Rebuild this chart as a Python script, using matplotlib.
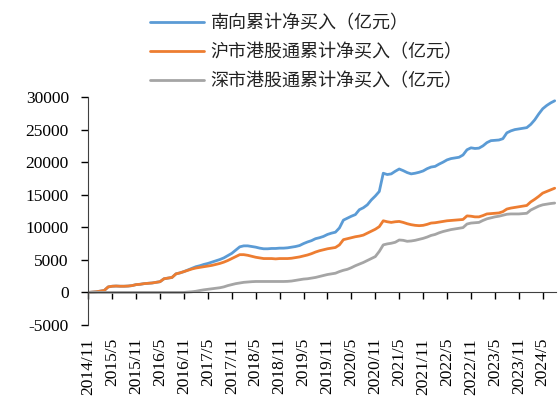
import numpy as np
import matplotlib.pyplot as plt

plt.rcParams['font.family'] = ['Liberation Serif', 'Noto Sans CJK SC']
plt.rcParams['axes.unicode_minus'] = False

# monthly cumulative net buying, 100m CNY, starting 2014/11
south_total = [
    0, 50, 100, 200, 300, 850, 950, 980, 950, 950,
    980, 1050, 1200, 1250, 1350, 1400, 1450, 1550, 1650, 2100,
    2200, 2300, 2850, 3000, 3200, 3450, 3700, 3950, 4100, 4300,
    4450, 4650, 4850, 5050, 5300, 5650, 6000, 6500, 7000, 7150,
    7150, 7050, 6950, 6800, 6700, 6700, 6750, 6750, 6800, 6800,
    6850, 6950, 7050, 7200, 7500, 7750, 7950, 8250, 8400, 8600,
    8900, 9100, 9250, 9900, 11100, 11400, 11700, 11950, 12700, 13000,
    13450, 14200, 14800, 15500, 18300, 18100, 18200, 18600, 18950, 18700,
    18400, 18200, 18300, 18450, 18650, 19000, 19250, 19350, 19700, 20000,
    20350, 20550, 20650, 20750, 21100, 21900, 22200, 22100, 22150, 22500,
    23000, 23300, 23350, 23400, 23600, 24500, 24800, 25000, 25100, 25200,
    25300, 25800, 26500, 27400, 28200, 28700, 29100, 29420,
]
sh_connect = [
    0, 50, 100, 200, 300, 850, 950, 980, 950, 950,
    980, 1050, 1200, 1250, 1350, 1400, 1450, 1550, 1650, 2100,
    2200, 2300, 2850, 3000, 3200, 3400, 3600, 3750, 3850, 3950,
    4050, 4150, 4300, 4450, 4650, 4900, 5200, 5500, 5800, 5800,
    5700, 5550, 5400, 5300, 5200, 5200, 5200, 5150, 5200, 5200,
    5200, 5250, 5350, 5450, 5600, 5750, 5950, 6200, 6400, 6550,
    6700, 6800, 6900, 7300, 8100, 8250, 8400, 8550, 8650, 8800,
    9100, 9400, 9700, 10100, 11000, 10850, 10750, 10850, 10900, 10750,
    10550, 10400, 10300, 10250, 10300, 10450, 10650, 10700, 10800, 10900,
    11000, 11050, 11100, 11150, 11200, 11750, 11700, 11600, 11600, 11800,
    12050, 12100, 12150, 12200, 12400, 12800, 12950, 13050, 13150, 13250,
    13350, 13900, 14300, 14750, 15250, 15500, 15750, 16000,
]
sz_connect = [
    0, 0, 0, 0, 0, 0, 0, 0, 0, 0,
    0, 0, 0, 0, 0, 0, 0, 0, 0, 0,
    0, 0, 0, 0, 0, 50, 100, 180, 300, 400,
    480, 560, 640, 720, 850, 1050, 1200, 1350, 1450, 1550,
    1600, 1650, 1680, 1680, 1680, 1680, 1680, 1680, 1680, 1680,
    1700, 1750, 1850, 1950, 2050, 2100, 2200, 2300, 2450, 2600,
    2750, 2850, 2950, 3200, 3400, 3550, 3800, 4100, 4350, 4600,
    4900, 5200, 5500, 6300, 7300, 7450, 7550, 7700, 8050, 8000,
    7850, 7900, 8000, 8150, 8300, 8500, 8750, 8900, 9150, 9350,
    9500, 9650, 9750, 9850, 9950, 10500, 10650, 10700, 10750, 11050,
    11300, 11450, 11600, 11700, 11850, 12000, 12050, 12050, 12050, 12100,
    12150, 12650, 12950, 13250, 13450, 13550, 13650, 13720,
]
tick_labels = [
    '2014/11', '2015/5', '2015/11', '2016/5', '2016/11', '2017/5',
    '2017/11', '2018/5', '2018/11', '2019/5', '2019/11', '2020/5',
    '2020/11', '2021/5', '2021/11', '2022/5', '2022/11', '2023/5',
    '2023/11', '2024/5',
]
series_names = ['南向累计净买入（亿元）', '沪市港股通累计净买入（亿元）',
                '深市港股通累计净买入（亿元）']
colors = ['#5B9BD5', '#ED7D31', '#A5A5A5']

months = np.arange(len(south_total))

fig = plt.figure(figsize=(5.58, 3.96), dpi=100)
ax = fig.add_axes([0.1582, 0.1793, 0.838, 0.5757])

for vals, name, c in zip([south_total, sh_connect, sz_connect], series_names, colors):
    ax.plot(months, vals, color=c, lw=2.0, label=name, solid_capstyle='round')

ax.set_xlim(0, 117.3)
ax.set_ylim(-5000, 30000)
ax.set_yticks(np.arange(-5000, 30001, 5000))
ax.tick_params(axis='y', direction='out', length=5, width=1, labelsize=12.5, pad=9)

ax.spines['top'].set_visible(False)
ax.spines['right'].set_visible(False)
ax.spines['bottom'].set_position(('data', 0))
ax.spines['bottom'].set_color('#404040')
ax.spines['left'].set_color('#404040')

tick_pos = np.arange(len(tick_labels)) * 6
ax.set_xticks(tick_pos)
ax.set_xticklabels([])
ax.tick_params(axis='x', direction='out', length=5, width=1)

# date labels sit below the plot area, not on the zero line
trans = ax.get_xaxis_transform()
for p, lab in zip(tick_pos, tick_labels):
    ax.text(p, -0.057, lab, transform=trans, rotation=90, ha='center', va='top',
            fontsize=12.5, clip_on=False)

leg = ax.legend(loc='upper left', bbox_to_anchor=(0.24, 1.005), bbox_transform=fig.transFigure,
                frameon=False, handlelength=3.0, handletextpad=0.35, labelspacing=0.62,
                prop={'family': ['Noto Sans CJK SC'], 'size': 13})
for t in leg.get_texts():
    t.set_color('#222222')

fig.savefig('out.png', dpi=100)
